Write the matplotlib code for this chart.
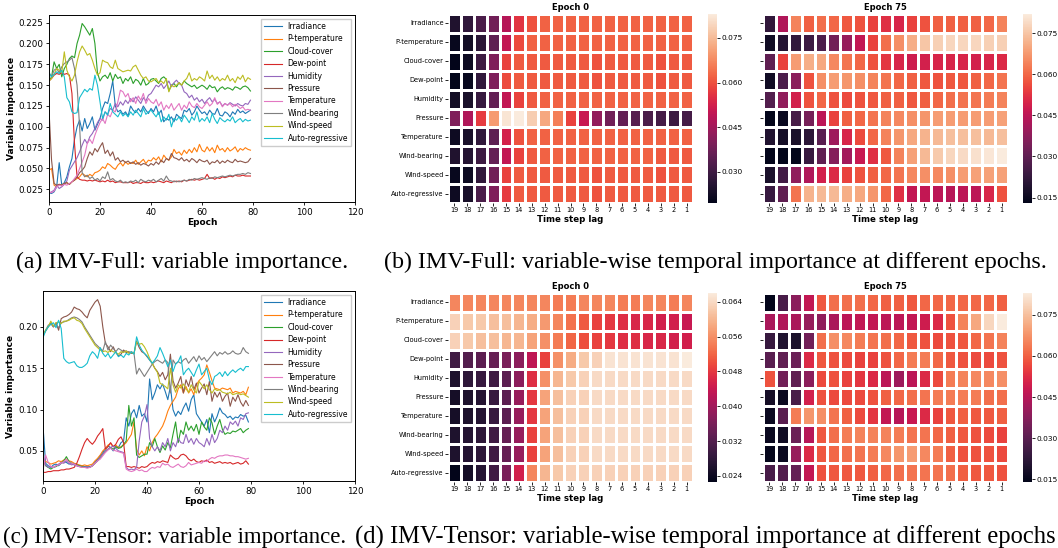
import numpy as np
import matplotlib
matplotlib.use("Agg")
import matplotlib.pyplot as plt
from matplotlib.patches import Rectangle
import seaborn as sns

variables = ["Irradiance", "P-temperature", "Cloud-cover", "Dew-point", "Humidity",
             "Pressure", "Temperature", "Wind-bearing", "Wind-speed", "Auto-regressive"]
lags = list(range(19, 0, -1))
epochs = list(range(80))

# ---- IMV-Full variable importance per epoch ----
full_irradiance = [0.021, 0.020, 0.022, 0.028, 0.057, 0.030, 0.033, 0.040, 0.052, 0.062,
                   0.085, 0.100, 0.108, 0.095, 0.110, 0.098, 0.104, 0.112, 0.096, 0.103,
                   0.110, 0.122, 0.130, 0.128, 0.140, 0.155, 0.125, 0.118, 0.120, 0.115,
                   0.118, 0.113, 0.125, 0.120, 0.117, 0.122, 0.118, 0.125, 0.120, 0.116,
                   0.122, 0.118, 0.125, 0.115, 0.120, 0.106, 0.110, 0.108, 0.112, 0.106,
                   0.115, 0.112, 0.110, 0.120, 0.118, 0.122, 0.114, 0.118, 0.125, 0.120,
                   0.116, 0.118, 0.114, 0.120, 0.116, 0.115, 0.122, 0.114, 0.113, 0.118,
                   0.116, 0.112, 0.118, 0.115, 0.121, 0.117, 0.119, 0.116, 0.118, 0.120]
full_ptemp = [0.048, 0.050, 0.030, 0.028, 0.031, 0.030, 0.032, 0.033, 0.031, 0.034,
              0.036, 0.038, 0.040, 0.044, 0.042, 0.040, 0.043, 0.041, 0.045, 0.046,
              0.048, 0.052, 0.050, 0.056, 0.054, 0.051, 0.049, 0.054, 0.057, 0.053,
              0.058, 0.055, 0.057, 0.056, 0.060, 0.055, 0.058, 0.061, 0.056, 0.060,
              0.059, 0.063, 0.060, 0.064, 0.058, 0.066, 0.062, 0.060, 0.064, 0.073,
              0.068, 0.070, 0.066, 0.072, 0.068, 0.073, 0.069, 0.075, 0.070, 0.079,
              0.072, 0.070, 0.076, 0.071, 0.075, 0.069, 0.078, 0.072, 0.074, 0.070,
              0.075, 0.071, 0.073, 0.076, 0.070, 0.074, 0.072, 0.075, 0.073, 0.072]
full_cloud = [0.155, 0.160, 0.178, 0.170, 0.175, 0.160, 0.170, 0.175, 0.182, 0.185,
              0.183, 0.200, 0.210, 0.224, 0.220, 0.215, 0.210, 0.218, 0.200, 0.165,
              0.155, 0.160, 0.162, 0.158, 0.165, 0.155, 0.163, 0.158, 0.160, 0.152,
              0.158, 0.155, 0.160, 0.152, 0.157, 0.155, 0.150, 0.158, 0.150, 0.152,
              0.157, 0.158, 0.155, 0.152, 0.158, 0.160, 0.157, 0.143, 0.150, 0.152,
              0.148, 0.153, 0.150, 0.155, 0.152, 0.150, 0.148, 0.150, 0.146, 0.148,
              0.150, 0.148, 0.145, 0.150, 0.147, 0.148, 0.142, 0.146, 0.148, 0.145,
              0.147, 0.146, 0.144, 0.148, 0.147, 0.145, 0.148, 0.149, 0.147, 0.143]
full_dew = [0.155, 0.158, 0.162, 0.164, 0.163, 0.165, 0.163, 0.164, 0.162, 0.140,
            0.080, 0.040, 0.037, 0.036, 0.036, 0.035, 0.036, 0.035, 0.036, 0.035,
            0.034, 0.035, 0.034, 0.036, 0.034, 0.035, 0.033, 0.034, 0.034, 0.033,
            0.033, 0.033, 0.034, 0.032, 0.033, 0.033, 0.032, 0.034, 0.033, 0.033,
            0.034, 0.033, 0.034, 0.035, 0.034, 0.033, 0.035, 0.034, 0.033, 0.035,
            0.034, 0.035, 0.034, 0.036, 0.035, 0.036, 0.037, 0.036, 0.037, 0.036,
            0.037, 0.038, 0.043, 0.038, 0.039, 0.037, 0.039, 0.038, 0.040, 0.039,
            0.040, 0.041, 0.040, 0.042, 0.041, 0.041, 0.042, 0.041, 0.041, 0.041]
full_humidity = [0.020, 0.022, 0.024, 0.030, 0.026, 0.028, 0.031, 0.035, 0.048, 0.053,
                 0.058, 0.063, 0.070, 0.078, 0.085, 0.080, 0.088, 0.092, 0.098, 0.105,
                 0.110, 0.108, 0.118, 0.115, 0.122, 0.120, 0.128, 0.124, 0.130, 0.126,
                 0.132, 0.128, 0.134, 0.130, 0.136, 0.132, 0.128, 0.135, 0.131, 0.138,
                 0.140, 0.145, 0.150, 0.148, 0.152, 0.146, 0.150, 0.155, 0.148, 0.153,
                 0.156, 0.152, 0.150, 0.142, 0.140, 0.135, 0.138, 0.132, 0.135, 0.130,
                 0.133, 0.128, 0.132, 0.135, 0.130, 0.133, 0.128, 0.130, 0.125, 0.128,
                 0.126, 0.129, 0.127, 0.125, 0.128, 0.126, 0.125, 0.128, 0.127, 0.132]
full_pressure = [0.120, 0.060, 0.032, 0.030, 0.031, 0.030, 0.032, 0.033, 0.031, 0.034,
                 0.036, 0.040, 0.045, 0.048, 0.052, 0.062, 0.070, 0.066, 0.074, 0.070,
                 0.076, 0.081, 0.068, 0.072, 0.065, 0.070, 0.060, 0.063, 0.058, 0.060,
                 0.057, 0.059, 0.056, 0.058, 0.055, 0.057, 0.054, 0.056, 0.055, 0.053,
                 0.056, 0.054, 0.058, 0.055, 0.060, 0.057, 0.062, 0.060, 0.068, 0.063,
                 0.062, 0.060, 0.063, 0.059, 0.061, 0.058, 0.062, 0.060, 0.057, 0.061,
                 0.059, 0.058, 0.060, 0.055, 0.058, 0.057, 0.060, 0.056, 0.059, 0.057,
                 0.060, 0.058, 0.057, 0.061, 0.058, 0.059, 0.058, 0.057, 0.058, 0.062]
full_temp = [0.022, 0.021, 0.023, 0.028, 0.030, 0.029, 0.031, 0.030, 0.032, 0.034,
             0.038, 0.042, 0.050, 0.058, 0.066, 0.080, 0.085, 0.080, 0.090, 0.098,
             0.105, 0.110, 0.104, 0.115, 0.112, 0.120, 0.118, 0.130, 0.144, 0.142,
             0.136, 0.140, 0.130, 0.135, 0.128, 0.137, 0.132, 0.140, 0.128, 0.134,
             0.130, 0.128, 0.133, 0.125, 0.130, 0.120, 0.126, 0.122, 0.128, 0.120,
             0.124, 0.128, 0.120, 0.126, 0.122, 0.130, 0.125, 0.123, 0.128, 0.124,
             0.122, 0.126, 0.130, 0.125, 0.128, 0.135, 0.127, 0.130, 0.124, 0.128,
             0.126, 0.128, 0.124, 0.127, 0.125, 0.122, 0.124, 0.120, 0.121, 0.120]
full_wbearing = [0.165, 0.160, 0.168, 0.170, 0.165, 0.172, 0.176, 0.178, 0.180, 0.183,
                 0.170, 0.150, 0.100, 0.045, 0.040, 0.042, 0.038, 0.040, 0.036, 0.038,
                 0.035, 0.040, 0.038, 0.046, 0.036, 0.038, 0.035, 0.034, 0.036, 0.033,
                 0.034, 0.033, 0.035, 0.034, 0.036, 0.033, 0.037, 0.035, 0.034, 0.036,
                 0.035, 0.037, 0.034, 0.036, 0.038, 0.035, 0.041, 0.036, 0.035, 0.034,
                 0.035, 0.034, 0.035, 0.036, 0.035, 0.037, 0.036, 0.038, 0.037, 0.038,
                 0.039, 0.038, 0.037, 0.039, 0.038, 0.040, 0.039, 0.040, 0.041, 0.040,
                 0.041, 0.042, 0.041, 0.042, 0.043, 0.043, 0.044, 0.043, 0.045, 0.044]
full_wspeed = [0.155, 0.158, 0.163, 0.170, 0.168, 0.165, 0.190, 0.168, 0.160, 0.155,
               0.162, 0.178, 0.190, 0.197, 0.192, 0.186, 0.188, 0.180, 0.170, 0.162,
               0.165, 0.180, 0.178, 0.177, 0.172, 0.170, 0.180, 0.170, 0.168, 0.166,
               0.167, 0.168, 0.167, 0.172, 0.174, 0.168, 0.162, 0.158, 0.160, 0.155,
               0.154, 0.156, 0.158, 0.153, 0.155, 0.152, 0.158, 0.142, 0.150, 0.148,
               0.150, 0.153, 0.150, 0.155, 0.158, 0.165, 0.155, 0.158, 0.156, 0.160,
               0.158, 0.155, 0.167, 0.158, 0.162, 0.156, 0.160, 0.155, 0.158, 0.156,
               0.162, 0.155, 0.158, 0.153, 0.160, 0.157, 0.162, 0.154, 0.159, 0.157]
full_autoreg = [0.165, 0.160, 0.163, 0.166, 0.164, 0.168, 0.160, 0.135, 0.130, 0.118,
                0.116, 0.117, 0.135, 0.140, 0.145, 0.142, 0.146, 0.144, 0.162, 0.150,
                0.130, 0.110, 0.118, 0.114, 0.128, 0.118, 0.115, 0.112, 0.118, 0.113,
                0.116, 0.112, 0.118, 0.114, 0.120, 0.116, 0.112, 0.122, 0.115, 0.118,
                0.120, 0.116, 0.112, 0.118, 0.106, 0.112, 0.108, 0.115, 0.100, 0.110,
                0.108, 0.112, 0.106, 0.114, 0.110, 0.105, 0.112, 0.108, 0.118, 0.106,
                0.110, 0.107, 0.112, 0.105, 0.116, 0.109, 0.104, 0.111, 0.108, 0.106,
                0.109, 0.107, 0.112, 0.105, 0.108, 0.110, 0.106, 0.109, 0.107, 0.108]

# ---- IMV-Tensor variable importance per epoch ----
tens_irradiance = [0.080, 0.035, 0.032, 0.030, 0.033, 0.034, 0.032, 0.035, 0.037, 0.036,
                   0.034, 0.035, 0.033, 0.032, 0.031, 0.032, 0.031, 0.030, 0.031, 0.032,
                   0.036, 0.040, 0.044, 0.048, 0.053, 0.056, 0.054, 0.050, 0.055, 0.054,
                   0.060, 0.062, 0.090, 0.080, 0.095, 0.100, 0.090, 0.105, 0.092, 0.095,
                   0.085, 0.137, 0.112, 0.120, 0.130, 0.125, 0.131, 0.122, 0.112, 0.128,
                   0.100, 0.092, 0.098, 0.094, 0.102, 0.108, 0.098, 0.112, 0.118, 0.095,
                   0.090, 0.085, 0.080, 0.088, 0.072, 0.095, 0.085, 0.092, 0.102, 0.096,
                   0.094, 0.090, 0.092, 0.088, 0.091, 0.090, 0.094, 0.092, 0.093, 0.085]
tens_ptemp = [0.041, 0.037, 0.036, 0.034, 0.035, 0.036, 0.038, 0.037, 0.039, 0.040,
              0.038, 0.037, 0.035, 0.034, 0.033, 0.032, 0.033, 0.032, 0.033, 0.034,
              0.038, 0.041, 0.045, 0.050, 0.053, 0.057, 0.059, 0.055, 0.057, 0.054,
              0.055, 0.057, 0.060, 0.065, 0.070, 0.085, 0.052, 0.045, 0.050, 0.044,
              0.055, 0.050, 0.060, 0.066, 0.070, 0.075, 0.080, 0.088, 0.098, 0.105,
              0.110, 0.115, 0.125, 0.130, 0.120, 0.128, 0.120, 0.125, 0.118, 0.130,
              0.135, 0.138, 0.142, 0.154, 0.145, 0.135, 0.126, 0.125, 0.124, 0.126,
              0.125, 0.124, 0.126, 0.120, 0.122, 0.121, 0.120, 0.122, 0.118, 0.127]
tens_cloud = [0.040, 0.032, 0.030, 0.028, 0.030, 0.031, 0.033, 0.035, 0.038, 0.043,
              0.037, 0.035, 0.034, 0.033, 0.032, 0.031, 0.030, 0.031, 0.030, 0.032,
              0.035, 0.038, 0.042, 0.046, 0.050, 0.052, 0.054, 0.052, 0.055, 0.053,
              0.054, 0.058, 0.062, 0.105, 0.080, 0.090, 0.045, 0.042, 0.044, 0.046,
              0.046, 0.060, 0.055, 0.065, 0.055, 0.048, 0.056, 0.051, 0.060, 0.054,
              0.070, 0.085, 0.060, 0.075, 0.070, 0.085, 0.075, 0.080, 0.074, 0.082,
              0.070, 0.085, 0.079, 0.075, 0.090, 0.084, 0.070, 0.080, 0.088, 0.076,
              0.070, 0.072, 0.071, 0.074, 0.073, 0.075, 0.077, 0.072, 0.075, 0.077]
tens_dew = [0.024, 0.024, 0.025, 0.025, 0.026, 0.026, 0.026, 0.027, 0.027, 0.028,
            0.028, 0.029, 0.030, 0.035, 0.043, 0.052, 0.060, 0.065, 0.061, 0.058,
            0.062, 0.068, 0.072, 0.077, 0.052, 0.055, 0.060, 0.055, 0.058, 0.064,
            0.067, 0.060, 0.031, 0.031, 0.030, 0.031, 0.030, 0.029, 0.031, 0.030,
            0.031, 0.034, 0.036, 0.035, 0.037, 0.036, 0.038, 0.037, 0.036, 0.045,
            0.042, 0.040, 0.041, 0.045, 0.046, 0.044, 0.040, 0.038, 0.040, 0.037,
            0.036, 0.038, 0.037, 0.039, 0.036, 0.037, 0.035, 0.036, 0.037, 0.035,
            0.036, 0.035, 0.036, 0.034, 0.035, 0.036, 0.034, 0.035, 0.038, 0.034]
tens_humidity = [0.045, 0.033, 0.030, 0.031, 0.030, 0.032, 0.034, 0.036, 0.035, 0.038,
                 0.035, 0.033, 0.034, 0.032, 0.031, 0.030, 0.030, 0.031, 0.030, 0.032,
                 0.035, 0.038, 0.042, 0.046, 0.050, 0.052, 0.054, 0.056, 0.053, 0.050,
                 0.049, 0.048, 0.030, 0.027, 0.028, 0.027, 0.030, 0.062, 0.085, 0.092,
                 0.106, 0.065, 0.055, 0.050, 0.055, 0.050, 0.060, 0.055, 0.065, 0.050,
                 0.060, 0.055, 0.065, 0.060, 0.059, 0.070, 0.060, 0.065, 0.058, 0.065,
                 0.060, 0.058, 0.055, 0.065, 0.057, 0.070, 0.060, 0.065, 0.075, 0.072,
                 0.080, 0.075, 0.085, 0.082, 0.086, 0.080, 0.090, 0.088, 0.095, 0.096]
tens_pressure = [0.190, 0.195, 0.200, 0.205, 0.200, 0.205, 0.196, 0.210, 0.212, 0.213,
                 0.215, 0.218, 0.224, 0.222, 0.221, 0.218, 0.214, 0.211, 0.220, 0.225,
                 0.230, 0.233, 0.225, 0.200, 0.180, 0.176, 0.170, 0.176, 0.169, 0.165,
                 0.167, 0.172, 0.169, 0.170, 0.168, 0.168, 0.183, 0.175, 0.170, 0.168,
                 0.164, 0.160, 0.156, 0.150, 0.146, 0.140, 0.145, 0.136, 0.142, 0.167,
                 0.135, 0.126, 0.132, 0.140, 0.120, 0.136, 0.128, 0.140, 0.124, 0.132,
                 0.120, 0.126, 0.131, 0.118, 0.134, 0.110, 0.121, 0.115, 0.121, 0.110,
                 0.116, 0.120, 0.104, 0.115, 0.110, 0.118, 0.109, 0.104, 0.111, 0.105]
tens_temp = [0.026, 0.045, 0.036, 0.031, 0.030, 0.032, 0.033, 0.035, 0.037, 0.040,
             0.036, 0.035, 0.034, 0.032, 0.031, 0.030, 0.030, 0.029, 0.030, 0.032,
             0.035, 0.038, 0.040, 0.044, 0.048, 0.051, 0.053, 0.051, 0.050, 0.049,
             0.048, 0.047, 0.028, 0.026, 0.025, 0.026, 0.028, 0.026, 0.027, 0.025,
             0.025, 0.028, 0.030, 0.029, 0.031, 0.030, 0.035, 0.033, 0.034, 0.031,
             0.030, 0.032, 0.034, 0.031, 0.030, 0.032, 0.036, 0.033, 0.034, 0.035,
             0.036, 0.035, 0.038, 0.037, 0.040, 0.042, 0.041, 0.043, 0.044, 0.044,
             0.045, 0.045, 0.044, 0.044, 0.043, 0.043, 0.042, 0.041, 0.040, 0.041]
tens_wbearing = [0.190, 0.196, 0.202, 0.204, 0.200, 0.203, 0.199, 0.205, 0.206, 0.207,
                 0.209, 0.211, 0.212, 0.211, 0.209, 0.206, 0.200, 0.195, 0.190, 0.185,
                 0.180, 0.177, 0.174, 0.171, 0.182, 0.172, 0.178, 0.174, 0.170, 0.174,
                 0.172, 0.170, 0.171, 0.169, 0.170, 0.168, 0.143, 0.150, 0.145, 0.140,
                 0.145, 0.150, 0.155, 0.158, 0.160, 0.158, 0.156, 0.160, 0.157, 0.120,
                 0.160, 0.155, 0.158, 0.156, 0.160, 0.162, 0.156, 0.160, 0.164, 0.158,
                 0.165, 0.160, 0.163, 0.158, 0.162, 0.166, 0.170, 0.165, 0.169, 0.167,
                 0.170, 0.167, 0.168, 0.171, 0.168, 0.167, 0.168, 0.175, 0.170, 0.168]
tens_wspeed = [0.190, 0.196, 0.200, 0.207, 0.201, 0.205, 0.206, 0.204, 0.207, 0.207,
               0.208, 0.210, 0.211, 0.208, 0.207, 0.204, 0.198, 0.193, 0.188, 0.183,
               0.178, 0.175, 0.172, 0.170, 0.171, 0.169, 0.172, 0.170, 0.169, 0.167,
               0.170, 0.169, 0.171, 0.168, 0.169, 0.168, 0.182, 0.179, 0.180, 0.176,
               0.170, 0.162, 0.156, 0.150, 0.145, 0.132, 0.130, 0.128, 0.125, 0.150,
               0.130, 0.121, 0.130, 0.126, 0.131, 0.125, 0.121, 0.130, 0.124, 0.120,
               0.134, 0.130, 0.125, 0.130, 0.124, 0.120, 0.125, 0.123, 0.124, 0.121,
               0.120, 0.119, 0.121, 0.118, 0.119, 0.120, 0.118, 0.119, 0.117, 0.115]
tens_autoreg = [0.187, 0.195, 0.200, 0.203, 0.205, 0.199, 0.208, 0.198, 0.162, 0.158,
                0.156, 0.157, 0.158, 0.153, 0.151, 0.151, 0.153, 0.156, 0.165, 0.170,
                0.167, 0.162, 0.175, 0.168, 0.164, 0.168, 0.162, 0.166, 0.170, 0.164,
                0.166, 0.163, 0.168, 0.166, 0.170, 0.167, 0.188, 0.178, 0.172, 0.168,
                0.165, 0.160, 0.156, 0.160, 0.165, 0.175, 0.168, 0.160, 0.152, 0.160,
                0.146, 0.155, 0.158, 0.165, 0.142, 0.147, 0.150, 0.145, 0.140, 0.148,
                0.155, 0.142, 0.146, 0.150, 0.136, 0.130, 0.140, 0.142, 0.145, 0.140,
                0.146, 0.141, 0.145, 0.148, 0.145, 0.148, 0.150, 0.147, 0.152, 0.152]

# ---- temporal importance heatmaps (rows = variables, cols = lag 19..1) ----
full_ep0 = [
    [0.025, 0.028, 0.032, 0.038, 0.048, 0.056, 0.060, 0.062, 0.062, 0.062, 0.062, 0.062, 0.062, 0.062, 0.062, 0.062, 0.062, 0.062, 0.062],
    [0.021, 0.023, 0.027, 0.035, 0.050, 0.059, 0.062, 0.062, 0.062, 0.062, 0.062, 0.062, 0.062, 0.062, 0.062, 0.062, 0.062, 0.062, 0.062],
    [0.0196, 0.022, 0.030, 0.040, 0.058, 0.061, 0.061, 0.061, 0.061, 0.061, 0.061, 0.060, 0.061, 0.061, 0.061, 0.061, 0.060, 0.061, 0.061],
    [0.0196, 0.021, 0.028, 0.040, 0.059, 0.061, 0.061, 0.061, 0.061, 0.061, 0.061, 0.060, 0.061, 0.061, 0.061, 0.061, 0.060, 0.061, 0.061],
    [0.023, 0.024, 0.029, 0.036, 0.050, 0.058, 0.061, 0.062, 0.062, 0.062, 0.062, 0.062, 0.062, 0.062, 0.062, 0.062, 0.062, 0.062, 0.062],
    [0.040, 0.047, 0.057, 0.070, 0.082, 0.083, 0.078, 0.072, 0.066, 0.058, 0.051, 0.043, 0.038, 0.036, 0.034, 0.032, 0.031, 0.030, 0.031],
    [0.022, 0.024, 0.028, 0.035, 0.053, 0.060, 0.062, 0.062, 0.062, 0.062, 0.062, 0.062, 0.062, 0.062, 0.062, 0.062, 0.062, 0.062, 0.062],
    [0.025, 0.026, 0.030, 0.036, 0.050, 0.058, 0.061, 0.062, 0.062, 0.062, 0.062, 0.062, 0.062, 0.062, 0.062, 0.062, 0.061, 0.061, 0.061],
    [0.021, 0.022, 0.028, 0.038, 0.058, 0.061, 0.061, 0.061, 0.061, 0.061, 0.061, 0.060, 0.061, 0.061, 0.061, 0.061, 0.060, 0.061, 0.061],
    [0.022, 0.024, 0.032, 0.040, 0.057, 0.061, 0.061, 0.061, 0.061, 0.061, 0.061, 0.060, 0.061, 0.061, 0.061, 0.061, 0.061, 0.061, 0.061],
]
full_ep75 = [
    [0.022, 0.043, 0.064, 0.059, 0.061, 0.060, 0.058, 0.057, 0.055, 0.052, 0.050, 0.055, 0.057, 0.059, 0.059, 0.059, 0.059, 0.060, 0.064],
    [0.016, 0.020, 0.022, 0.024, 0.027, 0.033, 0.039, 0.046, 0.055, 0.061, 0.066, 0.071, 0.075, 0.077, 0.078, 0.078, 0.078, 0.077, 0.077],
    [0.030, 0.055, 0.068, 0.071, 0.070, 0.065, 0.062, 0.060, 0.057, 0.053, 0.050, 0.048, 0.049, 0.050, 0.050, 0.050, 0.049, 0.050, 0.051],
    [0.016, 0.027, 0.037, 0.057, 0.066, 0.068, 0.067, 0.066, 0.064, 0.062, 0.060, 0.059, 0.058, 0.057, 0.058, 0.058, 0.059, 0.060, 0.062],
    [0.028, 0.038, 0.049, 0.057, 0.060, 0.057, 0.056, 0.057, 0.058, 0.059, 0.059, 0.058, 0.059, 0.060, 0.061, 0.062, 0.062, 0.063, 0.064],
    [0.013, 0.015, 0.026, 0.034, 0.045, 0.055, 0.059, 0.060, 0.062, 0.064, 0.065, 0.066, 0.067, 0.068, 0.068, 0.068, 0.068, 0.068, 0.069],
    [0.019, 0.017, 0.018, 0.021, 0.029, 0.040, 0.050, 0.056, 0.060, 0.064, 0.067, 0.070, 0.072, 0.073, 0.074, 0.074, 0.074, 0.073, 0.074],
    [0.013, 0.013, 0.013, 0.023, 0.030, 0.036, 0.041, 0.047, 0.052, 0.058, 0.064, 0.069, 0.073, 0.076, 0.078, 0.079, 0.080, 0.081, 0.082],
    [0.018, 0.025, 0.038, 0.043, 0.049, 0.051, 0.055, 0.057, 0.059, 0.060, 0.062, 0.065, 0.066, 0.065, 0.066, 0.068, 0.069, 0.069, 0.069],
    [0.023, 0.030, 0.062, 0.072, 0.073, 0.073, 0.071, 0.070, 0.067, 0.060, 0.052, 0.046, 0.046, 0.045, 0.044, 0.045, 0.045, 0.050, 0.057],
]
tens_ep0 = [
    [0.055, 0.055, 0.055, 0.055, 0.055, 0.055, 0.055, 0.055, 0.054, 0.054, 0.055, 0.055, 0.055, 0.054, 0.054, 0.055, 0.055, 0.054, 0.055],
    [0.063, 0.062, 0.062, 0.061, 0.061, 0.060, 0.059, 0.057, 0.055, 0.053, 0.051, 0.049, 0.048, 0.047, 0.046, 0.046, 0.045, 0.045, 0.044],
    [0.063, 0.062, 0.061, 0.061, 0.060, 0.060, 0.058, 0.056, 0.054, 0.052, 0.050, 0.049, 0.048, 0.047, 0.047, 0.046, 0.046, 0.045, 0.045],
    [0.030, 0.032, 0.033, 0.034, 0.036, 0.038, 0.043, 0.049, 0.056, 0.059, 0.062, 0.063, 0.065, 0.065, 0.065, 0.065, 0.065, 0.065, 0.066],
    [0.026, 0.028, 0.029, 0.030, 0.033, 0.038, 0.047, 0.056, 0.060, 0.062, 0.063, 0.064, 0.064, 0.064, 0.064, 0.064, 0.064, 0.064, 0.064],
    [0.025, 0.026, 0.027, 0.029, 0.033, 0.039, 0.048, 0.058, 0.061, 0.063, 0.063, 0.064, 0.064, 0.064, 0.064, 0.064, 0.064, 0.064, 0.064],
    [0.025, 0.026, 0.027, 0.029, 0.033, 0.039, 0.048, 0.058, 0.061, 0.063, 0.063, 0.064, 0.064, 0.064, 0.064, 0.064, 0.064, 0.064, 0.064],
    [0.026, 0.027, 0.028, 0.030, 0.034, 0.039, 0.049, 0.058, 0.061, 0.063, 0.063, 0.064, 0.064, 0.064, 0.064, 0.064, 0.064, 0.064, 0.064],
    [0.026, 0.027, 0.028, 0.030, 0.034, 0.039, 0.049, 0.058, 0.061, 0.063, 0.063, 0.064, 0.064, 0.064, 0.064, 0.064, 0.064, 0.064, 0.064],
    [0.0226, 0.025, 0.027, 0.030, 0.036, 0.045, 0.055, 0.060, 0.062, 0.063, 0.063, 0.063, 0.063, 0.063, 0.063, 0.063, 0.063, 0.063, 0.063],
]
tens_ep75 = [
    [0.014, 0.027, 0.038, 0.047, 0.059, 0.062, 0.062, 0.062, 0.061, 0.060, 0.060, 0.059, 0.061, 0.061, 0.061, 0.061, 0.061, 0.061, 0.060],
    [0.043, 0.044, 0.043, 0.040, 0.039, 0.043, 0.046, 0.047, 0.047, 0.046, 0.046, 0.047, 0.049, 0.052, 0.058, 0.065, 0.071, 0.079, 0.083],
    [0.024, 0.020, 0.019, 0.034, 0.062, 0.067, 0.066, 0.064, 0.063, 0.062, 0.061, 0.059, 0.058, 0.057, 0.058, 0.059, 0.061, 0.063, 0.065],
    [0.030, 0.031, 0.033, 0.052, 0.059, 0.058, 0.057, 0.056, 0.056, 0.058, 0.061, 0.064, 0.064, 0.061, 0.059, 0.058, 0.057, 0.057, 0.058],
    [0.058, 0.034, 0.031, 0.038, 0.057, 0.058, 0.056, 0.054, 0.052, 0.046, 0.041, 0.046, 0.052, 0.057, 0.064, 0.065, 0.066, 0.066, 0.067],
    [0.018, 0.016, 0.027, 0.050, 0.058, 0.057, 0.057, 0.057, 0.058, 0.060, 0.061, 0.062, 0.063, 0.064, 0.064, 0.064, 0.064, 0.062, 0.062],
    [0.016, 0.030, 0.064, 0.068, 0.067, 0.063, 0.060, 0.057, 0.054, 0.047, 0.045, 0.048, 0.052, 0.056, 0.059, 0.060, 0.059, 0.059, 0.060],
    [0.016, 0.017, 0.033, 0.045, 0.059, 0.062, 0.064, 0.065, 0.065, 0.065, 0.064, 0.063, 0.063, 0.061, 0.060, 0.059, 0.058, 0.057, 0.056],
    [0.015, 0.016, 0.040, 0.052, 0.059, 0.061, 0.062, 0.063, 0.064, 0.066, 0.068, 0.069, 0.066, 0.064, 0.060, 0.058, 0.058, 0.058, 0.057],
    [0.027, 0.029, 0.032, 0.047, 0.058, 0.059, 0.059, 0.059, 0.060, 0.061, 0.062, 0.063, 0.063, 0.063, 0.062, 0.060, 0.059, 0.059, 0.058],
]

full_series = [full_irradiance, full_ptemp, full_cloud, full_dew, full_humidity,
               full_pressure, full_temp, full_wbearing, full_wspeed, full_autoreg]
tens_series = [tens_irradiance, tens_ptemp, tens_cloud, tens_dew, tens_humidity,
               tens_pressure, tens_temp, tens_wbearing, tens_wspeed, tens_autoreg]
colors = ["#1f77b4", "#ff7f0e", "#2ca02c", "#d62728", "#9467bd",
          "#8c564b", "#e377c2", "#7f7f7f", "#bcbd22", "#17becf"]

W, H = 1058, 548
fig = plt.figure(figsize=(W / 100, H / 100), dpi=100)


def box(x0, y0, x1, y1):
    # pixel box (top-left origin) -> figure fraction
    return [x0 / W, 1 - y1 / H, (x1 - x0) / W, (y1 - y0) / H]


def line_panel(rect, series):
    ax = fig.add_axes(rect)
    for name, vals, c in zip(variables, series, colors):
        ax.plot(epochs, vals, lw=0.8, color=c, label=name)
    ax.set_xlim(0, 120)
    ax.set_xlabel("Epoch", fontsize=6.5, fontweight="bold", labelpad=1)
    ax.set_ylabel("Variable importance", fontsize=6.5, fontweight="bold", labelpad=2)
    ax.tick_params(labelsize=6.3, length=2.5, width=0.6, pad=1.5)
    for s in ax.spines.values():
        s.set_linewidth(0.7)
    ax.legend(loc="upper right", fontsize=5.5, handlelength=2.3, labelspacing=0.45,
              borderpad=0.4, framealpha=1, fancybox=False, edgecolor="#cccccc")
    return ax


def heat_panel(rect, cbar_rect, data, title, ticks, show_names, z=0):
    ax = fig.add_axes(rect)
    cax = fig.add_axes(cbar_rect)
    sns.heatmap(np.array(data), ax=ax, cbar_ax=cax, cmap="rocket", linewidths=0.9,
                linecolor="white", xticklabels=lags,
                yticklabels=variables if show_names else [""] * len(variables))
    ax.set_title(title, fontsize=6, fontweight="bold", pad=3)
    ax.set_xlabel("Time step lag", fontsize=6.2, fontweight="bold", labelpad=1)
    ax.tick_params(labelsize=4.8, length=2, width=0.6, pad=1)
    ax.tick_params(axis="x", rotation=0)
    ax.tick_params(axis="y", rotation=0)
    cax.set_yticks(ticks)
    cax.set_yticklabels(["%.3f" % t for t in ticks])
    cax.tick_params(labelsize=5.3, length=2, width=0.6, pad=1)
    ax.set_zorder(z)
    cax.set_zorder(z)
    return ax


line_panel(box(49, 15, 355, 202), full_series)
line_panel(box(43, 291, 355, 481), tens_series)

heat_panel(box(448, 14, 693, 203), box(708, 14, 717, 203), full_ep0, "Epoch 0",
           [0.030, 0.045, 0.060, 0.075], True)
heat_panel(box(763, 14, 1008, 203), box(1023, 14, 1032, 203), full_ep75, "Epoch 75",
           [0.015, 0.030, 0.045, 0.060, 0.075], False, z=2)
heat_panel(box(448, 293, 693, 482), box(708, 293, 717, 482), tens_ep0, "Epoch 0",
           [0.024, 0.032, 0.040, 0.048, 0.056, 0.064], True)
heat_panel(box(763, 293, 1008, 482), box(1023, 293, 1032, 482), tens_ep75, "Epoch 75",
           [0.015, 0.030, 0.045, 0.060, 0.075], False, z=2)

# right-hand heatmap images sit over the left colorbar labels
fig.patches.append(Rectangle((742 / W, 0), 1 - 742 / W, 1, transform=fig.transFigure,
                             facecolor="white", edgecolor="none", zorder=1))

cap = dict(family="Liberation Serif", va="center", ha="left")
fig.text(16 / W, 1 - 262 / H, "(a) IMV-Full: variable importance.", fontsize=17.2, **cap)
fig.text(384 / W, 1 - 262 / H,
         "(b) IMV-Full: variable-wise temporal importance at different epochs.",
         fontsize=17.3, **cap)
fig.text(3 / W, 1 - 537 / H, "(c) IMV-Tensor: variable importance.", fontsize=16.5, **cap)
fig.text(355 / W, 1 - 537 / H,
         "(d) IMV-Tensor: variable-wise temporal importance at different epochs",
         fontsize=17.7, **cap)

fig.savefig("out.png", dpi=100)
